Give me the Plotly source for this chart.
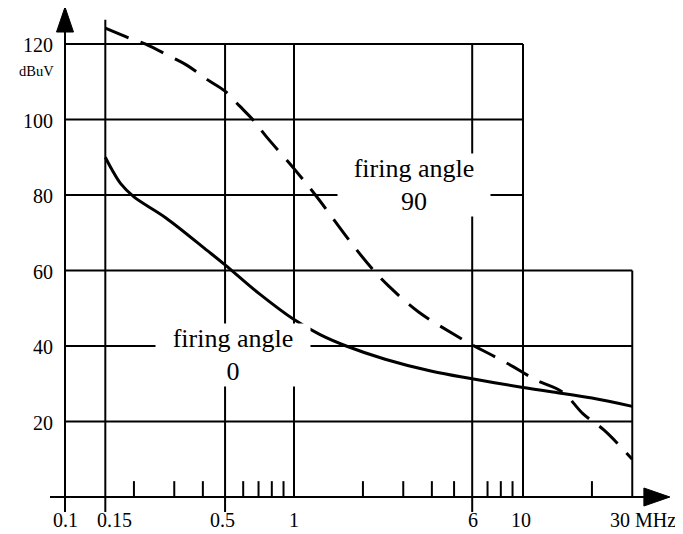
import math
import plotly.graph_objects as go

# ---- data ----
FREQ_0 = [0.15, 0.16, 0.175, 0.2, 0.275, 0.42, 0.5, 0.7, 1.0, 1.3, 1.69, 2.5, 4, 6, 10, 13.5, 20, 30]
LEVEL_0 = [90, 86.8, 83, 79.5, 74, 65.2, 61.5, 54, 47, 43, 40, 36.5, 33.3, 31.3, 29, 27.8, 26.2, 24]

FREQ_90 = [0.15, 0.196, 0.225, 0.29, 0.34, 0.42, 0.5, 0.578, 0.66, 0.754, 1.0, 1.24, 1.82, 2.23, 2.58, 3.5,
           5.03, 6, 8.2, 10, 11.35, 14.9, 18.3, 22.6, 30]
LEVEL_90 = [124.2, 121.3, 120, 116.6, 114.4, 110.5, 107.5, 103.6, 100, 95.6, 87, 80, 66.5, 60, 56, 49,
            43, 40.3, 36, 33, 31, 27.8, 22, 17.7, 10]

X_TICKS = [0.1, 0.15, 0.5, 1, 6, 10, 30]
X_TICK_TEXT = ["0.1", "0.15", "0.5", "1", "6", "10", "30 MHz"]
Y_TICKS = [20, 40, 60, 80, 100, 120]
Y_TICK_TEXT = ["20", "40", "60", "80", "100", "120"]
MINOR_TICKS = [0.2, 0.3, 0.4, 0.6, 0.7, 0.8, 0.9, 2, 3, 4, 5, 7, 8, 9, 20]

# grid extents
H_GRID_END = [30, 30, 30, 10, 10, 10]          # right end of each horizontal line
V_GRID = [0.15, 0.5, 1, 6, 10, 30]
V_GRID_TOP = [126.4, 120, 120, 120, 120, 60]
V_GRID_BOTTOM = [-4, -4, 0, -4, 0, 0]

X_MIN, X_AXIS_END = 0.086, 43.8
Y_AXIS_BOTTOM, Y_AXIS_TOP = -4, 129.8
MINOR_LEN = 4.2

FONT = "Liberation Serif, Times New Roman, serif"
BLACK = "#000000"

fig = go.Figure()
fig.add_trace(go.Scatter(x=FREQ_0, y=LEVEL_0, mode="lines", line=dict(color=BLACK, width=3, shape="spline"),
                         hoverinfo="skip"))
fig.add_trace(go.Scatter(x=FREQ_90, y=LEVEL_90, mode="lines",
                         line=dict(color=BLACK, width=3, shape="spline", dash="25px,13px"),
                         hoverinfo="skip"))

shapes = []
line = dict(color=BLACK, width=2)
for yv, xe in zip(Y_TICKS, H_GRID_END):
    shapes.append(dict(type="line", xref="x", yref="y", x0=0.1, x1=xe, y0=yv, y1=yv, line=line))
for xv, yt, yb in zip(V_GRID, V_GRID_TOP, V_GRID_BOTTOM):
    shapes.append(dict(type="line", xref="x", yref="y", x0=xv, x1=xv, y0=yb, y1=yt, line=line))
for xv in MINOR_TICKS:
    shapes.append(dict(type="line", xref="x", yref="y", x0=xv, x1=xv, y0=0, y1=MINOR_LEN, line=line))
# axes
shapes.append(dict(type="line", xref="x", yref="y", x0=X_MIN, x1=X_AXIS_END * 0.93, y0=0, y1=0, line=line))
shapes.append(dict(type="line", xref="x", yref="y", x0=0.1, x1=0.1, y0=Y_AXIS_BOTTOM, y1=Y_AXIS_TOP - 5, line=line))
# arrow heads
shapes.append(dict(type="path", xref="x", yref="y", xsizemode="pixel", ysizemode="pixel",
                   xanchor=0.1, yanchor=Y_AXIS_TOP, path="M 0,0 L -8.5,-25 L 8.5,-25 Z",
                   fillcolor=BLACK, line=dict(color=BLACK, width=1)))
shapes.append(dict(type="path", xref="x", yref="y", xsizemode="pixel", ysizemode="pixel",
                   xanchor=X_AXIS_END, yanchor=0, path="M 0,0 L -26,9 L -26,-9 Z",
                   fillcolor=BLACK, line=dict(color=BLACK, width=1)))

annotations = []
x_shift = [0, 9, -3, 0, 1, -2, -24]
for xv, txt, sh in zip(X_TICKS, X_TICK_TEXT, x_shift):
    anchor = "left" if "MHz" in txt else "center"
    annotations.append(dict(x=math.log10(xv), y=0, xref="x", yref="y", text=txt, showarrow=False,
                            xanchor=anchor, yanchor="middle", xshift=sh, yshift=-23,
                            font=dict(family=FONT, size=20, color=BLACK)))
for yv, txt in zip(Y_TICKS, Y_TICK_TEXT):
    annotations.append(dict(x=math.log10(0.1), y=yv, xref="x", yref="y", text=txt, showarrow=False,
                            xanchor="right", yanchor="middle", xshift=-10, yshift=-1,
                            font=dict(family=FONT, size=20, color=BLACK)))
annotations.append(dict(x=math.log10(0.1), y=120, xref="x", yref="y", text="dBuV", showarrow=False,
                        xanchor="right", yanchor="middle", xshift=-9, yshift=-27,
                        font=dict(family=FONT, size=14.5, color=BLACK)))
annotations.append(dict(x=math.log10(0.5), y=40, xref="x", yref="y", text="firing angle<br>0",
                        showarrow=False, xanchor="center", yanchor="middle", xshift=8, yshift=-9,
                        width=152, height=60, bgcolor="white",
                        font=dict(family=FONT, size=26, color=BLACK)))
annotations.append(dict(x=math.log10(6), y=80, xref="x", yref="y", text="firing angle<br>90",
                        showarrow=False, xanchor="center", yanchor="middle", xshift=-58, yshift=10,
                        width=150, height=60, bgcolor="white",
                        font=dict(family=FONT, size=26, color=BLACK)))

fig.update_layout(
    width=683, height=534,
    margin=dict(l=0, r=0, t=0, b=0),
    paper_bgcolor="white", plot_bgcolor="white",
    showlegend=False,
    xaxis=dict(type="log", range=[-1.2489, 1.7336], visible=False),
    yaxis=dict(range=[-11.92, 129.54], visible=False),
    shapes=shapes, annotations=annotations,
)
fig.write_html("out.html")
